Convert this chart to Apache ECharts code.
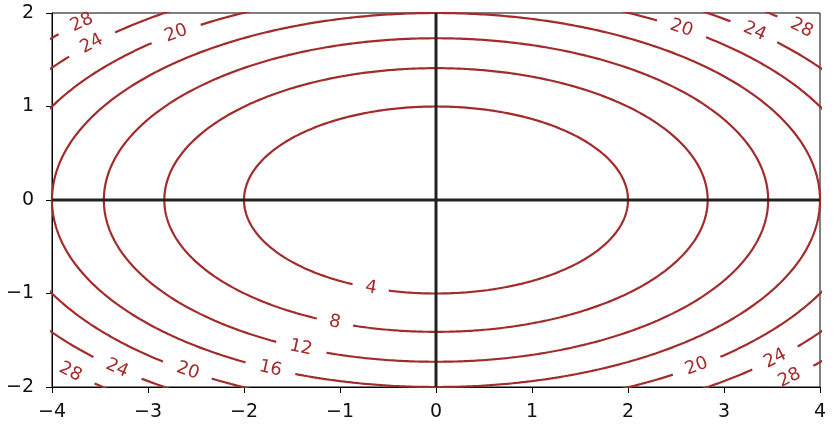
<!DOCTYPE html>
<html><head><meta charset="utf-8">
<script src="https://cdn.jsdelivr.net/npm/echarts@6/dist/echarts.min.js"></script>
<style>html,body{margin:0;padding:0;background:#fff}#c{width:834px;height:426px}</style>
</head><body><div id="c"></div>
<script>
// contour levels of the ellipses and their semi-axes
const levels = [4, 8, 12, 16, 20, 24, 28];
const semiX = [2.0, 2.83, 3.46, 4.0, 4.47, 4.90, 5.29];
const semiY = [1.0, 1.41, 1.73, 2.0, 2.24, 2.45, 2.65];
const xTicks = [-4, -3, -2, -1, 0, 1, 2, 3, 4];
const yTicks = [-2, -1, 0, 1, 2];
// inline contour labels: level and approximate position
const labelLevels = [4, 8, 12, 16, 20, 24, 28, 20, 24, 28, 28, 24, 20, 20, 24, 28];
const labelX = [-0.67, -1.04, -1.39, -1.73, -2.56, -3.34, -3.81, 2.70, 3.56, 3.66, -3.69, -3.63, -2.72, 2.56, 3.35, 3.81];
const labelY = [-0.93, -1.29, -1.56, -1.81, -1.81, -1.81, -1.84, -1.77, -1.71, -1.89, 1.90, 1.69, 1.79, 1.84, 1.82, 1.84];

const COLOR = '#a22c2c';
const FONT = 'DejaVu Sans';
const chart = echarts.init(document.getElementById('c'));

const fmt = v => String(v).replace('-', '\u2212');
const baseOption = {
  animation: false,
  grid: {left: 52, right: 14, top: 13, bottom: 39, show: true, borderColor: '#000', borderWidth: 1},
  xAxis: {
    type: 'value', min: xTicks[0], max: xTicks[xTicks.length - 1], interval: 1,
    axisLine: {show: true, onZero: false, lineStyle: {color: '#000', width: 1}},
    axisTick: {show: true, length: 6, lineStyle: {color: '#000'}},
    splitLine: {show: false},
    axisLabel: {color: '#111', fontSize: 19, fontFamily: FONT, margin: 16, formatter: fmt}
  },
  yAxis: {
    type: 'value', min: yTicks[0], max: yTicks[yTicks.length - 1], interval: 1,
    axisLine: {show: true, onZero: false, lineStyle: {color: '#000', width: 1}},
    axisTick: {show: true, length: 6, lineStyle: {color: '#000'}},
    splitLine: {show: false},
    axisLabel: {color: '#111', fontSize: 19, fontFamily: FONT, margin: 18, formatter: fmt}
  },
  series: []
};
chart.setOption(baseOption);

const px = p => chart.convertToPixel({gridIndex: 0}, p);

// project labels onto their ellipse, compute rotation along tangent
const labels = labelLevels.map((lv, i) => {
  const k = levels.indexOf(lv);
  const a = semiX[k], b = semiY[k];
  const t = Math.atan2(labelY[i] / b, labelX[i] / a);
  const x = a * Math.cos(t), y = b * Math.sin(t);
  const p0 = px([x, y]);
  const p1 = px([a * Math.cos(t + 0.001), b * Math.sin(t + 0.001)]);
  let ang = Math.atan2(-(p1[1] - p0[1]), p1[0] - p0[0]);
  if (ang > Math.PI / 2) ang -= Math.PI;
  if (ang < -Math.PI / 2) ang += Math.PI;
  return {level: lv, x, y, p: p0, rot: ang, text: String(lv), gap: String(lv).length > 1 ? 25 : 18};
});

const series = [];
levels.forEach((lv, k) => {
  const a = semiX[k], b = semiY[k];
  const N = 1440;
  const data = [];
  const myLabels = labels.filter(l => l.level === lv);
  for (let i = 0; i <= N; i++) {
    const t = 2 * Math.PI * i / N;
    const x = a * Math.cos(t), y = b * Math.sin(t);
    const p = px([x, y]);
    const hidden = myLabels.some(l => Math.hypot(p[0] - l.p[0], p[1] - l.p[1]) < l.gap);
    data.push(hidden ? ['-', '-'] : [x, y]);
  }
  series.push({
    type: 'line', data, showSymbol: false, symbol: 'none', connectNulls: false,
    clip: true, lineStyle: {color: COLOR, width: 2.2}, z: 2, silent: true
  });
});

series.push({
  type: 'line', data: [[-4, 0], [4, 0]], symbol: 'none', lineStyle: {color: '#222', width: 3}, z: 5, silent: true
});
series.push({
  type: 'line', data: [[0, -2], [0, 2]], symbol: 'none', lineStyle: {color: '#222', width: 3}, z: 5, silent: true
});

series.push({
  type: 'custom', z: 6, silent: true,
  data: labels.map(l => [l.x, l.y]),
  renderItem: (params, api) => {
    const l = labels[params.dataIndex];
    const p = api.coord([api.value(0), api.value(1)]);
    return {
      type: 'text', x: p[0], y: p[1], rotation: l.rot,
      style: {text: l.text, fill: COLOR, font: '18px "' + FONT + '"', align: 'center', verticalAlign: 'middle', textAlign: 'center', textVerticalAlign: 'middle'}
    };
  }
});

chart.setOption({series});
</script>
</body></html>
